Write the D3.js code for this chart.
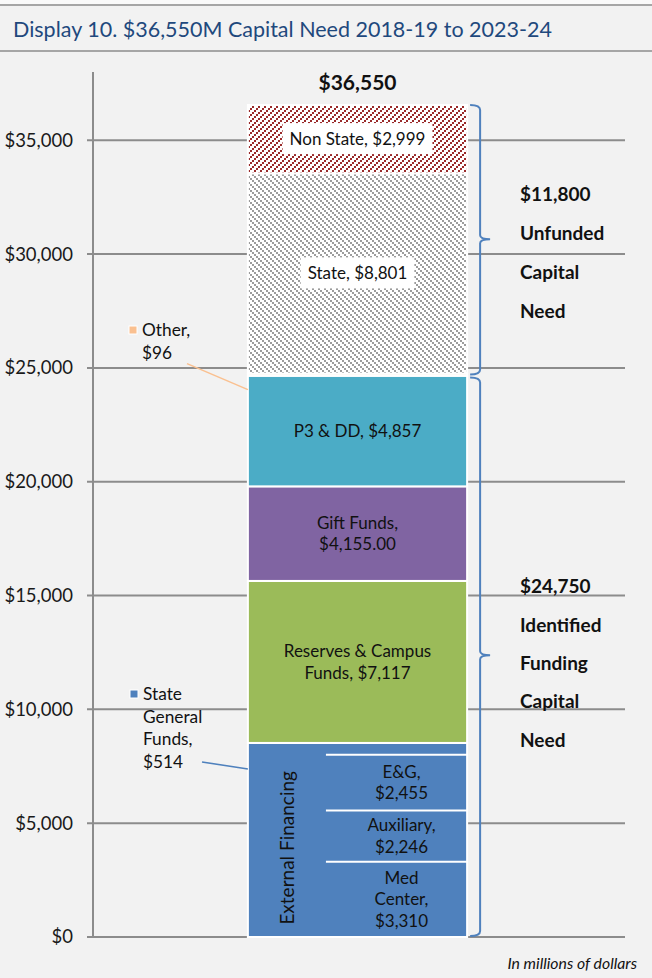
<!DOCTYPE html>
<html>
<head>
<meta charset="utf-8">
<script src="https://cdn.jsdelivr.net/npm/d3@7"></script>
<style>
  body { margin: 0; background: #f2f2f2; }
  svg { display: block; font-family: Lato, "Open Sans", sans-serif; }
</style>
</head>
<body>
<svg id="chart" width="652" height="978"></svg>
<script>
// stacked segments, bottom to top
const segments = ["Med Center", "Auxiliary", "E&G", "State General Funds", "Reserves & Campus Funds",
                  "Gift Funds", "P3 & DD", "Other", "State", "Non State"];
const values = [3310, 2246, 2455, 514, 7117, 4155, 4857, 96, 8801, 2999];
const segLabels = [
    ["Med", "Center,", "$3,310"],
    ["Auxiliary,", "$2,246"],
    ["E&G,", "$2,455"],
    null,
    ["Reserves & Campus", "Funds, $7,117"],
    ["Gift Funds,", "$4,155.00"],
    ["P3 & DD, $4,857"],
    null,
    ["State, $8,801"],
    ["Non State, $2,999"]
];
const colors = ["#4f81bd", "#4f81bd", "#4f81bd", "#4f81bd", "#9bbb59", "#8064a2", "#4bacc6", "#fac090",
                "url(#hatchState)", "url(#hatchNonState)"];
const yTicks = [0, 5000, 10000, 15000, 20000, 25000, 30000, 35000];
const total = 36550;
const braceGroups = [
    {from: 24750, to: 36550, lines: ["$11,800", "Unfunded", "Capital", "Need"]},
    {from: 0, to: 24750, lines: ["$24,750", "Identified", "Funding", "Capital", "Need"]}
];

const svg = d3.select('#chart');
const fmt = d3.format('$,');

// title band
svg.append('rect').attr('x', 0).attr('y', 0).attr('width', 652).attr('height', 5).attr('fill', '#fafafa');
svg.append('line').attr('x1', 0).attr('x2', 652).attr('y1', 5).attr('y2', 5)
    .attr('stroke', '#a6a6a6').attr('stroke-width', 2);
svg.append('line').attr('x1', 0).attr('x2', 652).attr('y1', 51).attr('y2', 51)
    .attr('stroke', '#a6a6a6').attr('stroke-width', 2);
svg.append('text').attr('x', 13).attr('y', 37)
    .attr('fill', '#1f497d').style('font-size', '21.5px')
    .text('Display 10. $36,550M Capital Need 2018-19 to 2023-24');

// pixel hatch patterns: 2px squares stepping diagonally, 6px period
let defs = svg.append('defs');
function hatch(id, color, cells) {
    let p = defs.append('pattern').attr('id', id)
        .attr('patternUnits', 'userSpaceOnUse').attr('width', 6).attr('height', 6);
    p.append('rect').attr('width', 6).attr('height', 6).attr('fill', '#fff');
    p.selectAll('.px').data(cells).join('rect').attr('class', 'px')
        .attr('x', d => d[0]).attr('y', d => d[1]).attr('width', 2).attr('height', 2)
        .attr('fill', color);
}
hatch('hatchNonState', '#9a2a2a', [[0, 4], [2, 2], [4, 0]]);
hatch('hatchState', '#9c9c9c', [[0, 0], [2, 2], [4, 4]]);

const y = d3.scaleLinear().domain([0, 38000]).range([937, 72]);
const x = d3.scaleBand().domain(['Capital Need']).range([93, 622]).padding(0.414);
const bx = x('Capital Need'), bw = x.bandwidth();

// gridlines + axis
svg.append('g').selectAll('line').data(yTicks).join('line')
    .attr('x1', 87).attr('x2', 625)
    .attr('y1', d => y(d)).attr('y2', d => y(d))
    .attr('stroke', '#8c8c8c').attr('stroke-width', 2);
svg.append('line').attr('x1', 93).attr('x2', 93).attr('y1', y(38000)).attr('y2', y(0))
    .attr('stroke', '#8c8c8c').attr('stroke-width', 2);
svg.append('g').selectAll('text').data(yTicks).join('text')
    .attr('x', 73).attr('y', d => y(d)).attr('dy', '0.35em')
    .attr('text-anchor', 'end').attr('fill', '#1a1a1a').style('font-size', '18.5px')
    .text(d => fmt(d));

// stack
let cum = 0;
const stacked = values.map((v, i) => {
    let d = {name: segments[i], value: v, y0: cum, y1: cum + v, color: colors[i], label: segLabels[i]};
    cum += v;
    return d;
});
const ext = stacked.slice(0, 4);

// external financing block (one block, split by white lines on the right)
svg.append('rect')
    .attr('x', bx).attr('width', bw)
    .attr('y', y(ext[3].y1)).attr('height', y(0) - y(ext[3].y1))
    .attr('fill', '#4f81bd').attr('stroke', '#fff').attr('stroke-width', 2);
const splitX = bx + bw * 0.356;
svg.append('g').selectAll('line').data(ext.slice(0, 3)).join('line')
    .attr('x1', splitX).attr('x2', bx + bw)
    .attr('y1', d => y(d.y1)).attr('y2', d => y(d.y1))
    .attr('stroke', '#fff').attr('stroke-width', 2);

svg.append('g').selectAll('rect').data(stacked.slice(4)).join('rect')
    .attr('x', bx).attr('width', bw)
    .attr('y', d => y(d.y1)).attr('height', d => y(d.y0) - y(d.y1))
    .attr('fill', d => d.color).attr('stroke', '#fff').attr('stroke-width', 2);

// segment labels
const lineH = 21.5;
stacked.forEach((d, i) => {
    if (!d.label) return;
    let cx = i < 3 ? (splitX + bx + bw) / 2 + 5 : bx + bw / 2;
    let cy = (y(d.y0) + y(d.y1)) / 2;
    let g = svg.append('g');
    let t = g.append('text').attr('text-anchor', 'middle').attr('fill', '#111').style('font-size', '17px');
    d.label.forEach((l, j) => {
        t.append('tspan').attr('x', cx)
            .attr('y', cy + (j - (d.label.length - 1) / 2) * lineH)
            .attr('dy', '0.35em').text(l);
    });
    if (d.name === 'State' || d.name === 'Non State') {
        let bb = t.node().getBBox();
        g.insert('rect', 'text')
            .attr('x', bb.x - 7).attr('y', bb.y - 5)
            .attr('width', bb.width + 14).attr('height', bb.height + 10)
            .attr('fill', '#fff');
    }
});

svg.append('text')
    .attr('transform', `translate(${(bx + splitX) / 2}, ${(y(0) + y(ext[2].y1)) / 2 + 2}) rotate(-90)`)
    .attr('text-anchor', 'middle').attr('dy', '0.35em')
    .attr('fill', '#111').style('font-size', '19px')
    .text('External Financing');

// total on top
svg.append('text').attr('x', bx + bw / 2).attr('y', y(total) - 22)
    .attr('text-anchor', 'middle').attr('dy', '0.35em')
    .attr('fill', '#111').style('font-size', '21px').style('font-weight', 'bold')
    .text(fmt(total));

// callouts for the tiny slices
function callout(d, lx, ly, lines, lineEnd, color) {
    let g = svg.append('g');
    g.append('rect').attr('x', lx).attr('y', ly - 10).attr('width', 8).attr('height', 8)
        .attr('fill', color).attr('stroke', '#fff').attr('stroke-width', 1);
    let t = g.append('text').attr('fill', '#111').style('font-size', '17.3px');
    lines.forEach((l, j) => {
        t.append('tspan').attr('x', lx + 13).attr('y', ly + j * 22.5).text(l);
    });
    g.append('line').attr('x1', lineEnd[0]).attr('y1', lineEnd[1])
        .attr('x2', bx).attr('y2', lineEnd[2])
        .attr('stroke', color).attr('stroke-width', 1.5);
}
let other = stacked[7], sgf = stacked[3];
callout(other, 129, 336, ['Other,', '$96'], [187, y(other.y1) - 10, y(other.y1) + 16], '#fac090');
callout(sgf, 130, 700, ['State', 'General', 'Funds,', '$514'], [202, y(sgf.y1) + 19, y(sgf.y1) + 26], '#4f81bd');

// braces
const braceX = bx + bw + 13;
braceGroups.forEach((b, i) => {
    let top = y(b.to) + (i === 1 ? 4 : 0), bot = y(b.from) - (i === 1 ? 1 : -1);
    let mid = (y(b.from) + y(b.to)) / 2;
    let x0 = braceX - 10, x1 = braceX, x2 = braceX + 10;
    let p = d3.path();
    p.moveTo(x0, top);
    p.quadraticCurveTo(x1, top, x1, top + 5);
    p.lineTo(x1, mid - 4);
    p.quadraticCurveTo(x1, mid, x2, mid);
    p.quadraticCurveTo(x1, mid, x1, mid + 4);
    p.lineTo(x1, bot - 5);
    p.quadraticCurveTo(x1, bot, x0, bot);
    svg.append('path').attr('d', p.toString())
        .attr('fill', 'none').attr('stroke', '#4f81bd').attr('stroke-width', 2);

    let t = svg.append('text').attr('fill', '#111')
        .style('font-size', '19px').style('font-weight', 'bold');
    let gap = i === 0 ? 39 : 38.3;
    let start = mid - (b.lines.length - 1) / 2 * gap + (i === 0 ? 14 : 8);
    b.lines.forEach((l, j) => {
        t.append('tspan').attr('x', 520).attr('y', start + j * gap).attr('dy', '0.35em').text(l);
    });
});

// footnote
svg.append('text').attr('x', 637).attr('y', 969)
    .attr('text-anchor', 'end').attr('fill', '#111')
    .style('font-size', '15.8px').style('font-style', 'italic')
    .text('In millions of dollars');
</script>
</body>
</html>
